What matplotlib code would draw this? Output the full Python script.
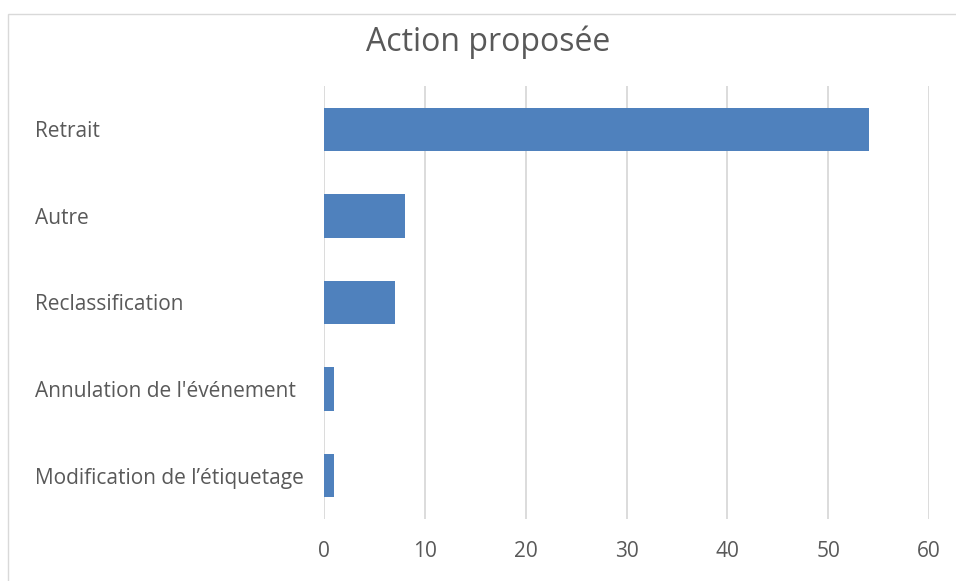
import matplotlib.pyplot as plt
from matplotlib.patches import Rectangle

# data
categories = ["Retrait", "Autre", "Reclassification",
              "Annulation de l'événement", "Modification de l\u2019étiquetage"]
values = [54, 8, 7, 1, 1]
xticks = [0, 10, 20, 30, 40, 50, 60]

plt.rcParams['font.family'] = ['Open Sans', 'DejaVu Sans']

W, H = 956, 581
fig = plt.figure(figsize=(W / 100, H / 100), dpi=100)

# chart area border (runs off right and bottom)
fig.patches.append(Rectangle((8 / W, -0.1), 1.2, 1 - 14 / H + 0.1,
                             transform=fig.transFigure, fill=False,
                             edgecolor='#d9d9d9', linewidth=1))

ax = fig.add_axes([324 / W, 1 - 519 / H, (929 - 324) / W, (519 - 86) / H])
ypos = list(range(len(categories)))
ax.barh(ypos, values, height=0.5, color='#4f81bd', zorder=3)

ax.set_xlim(0, 60)
ax.set_ylim(len(categories) - 0.5, -0.5)
ax.set_xticks(xticks)
ax.set_xticklabels([str(t) for t in xticks])
ax.set_yticks(ypos)
ax.set_yticklabels(categories)

for s in ax.spines.values():
    s.set_visible(False)
ax.grid(axis='x', color='#d9d9d9', linewidth=1.3, zorder=0)
ax.tick_params(axis='both', length=0, colors='#595959', labelsize=15)
ax.tick_params(axis='x', pad=16)
ax.tick_params(axis='y', pad=(324 - 35) * 0.72)
for lab in ax.get_yticklabels():
    lab.set_horizontalalignment('left')

fig.text(488 / W, 1 - 42 / H, "Action proposée", ha='center', va='center',
         fontsize=23, color='#595959')

fig.savefig("out.png", dpi=100, facecolor='white')
